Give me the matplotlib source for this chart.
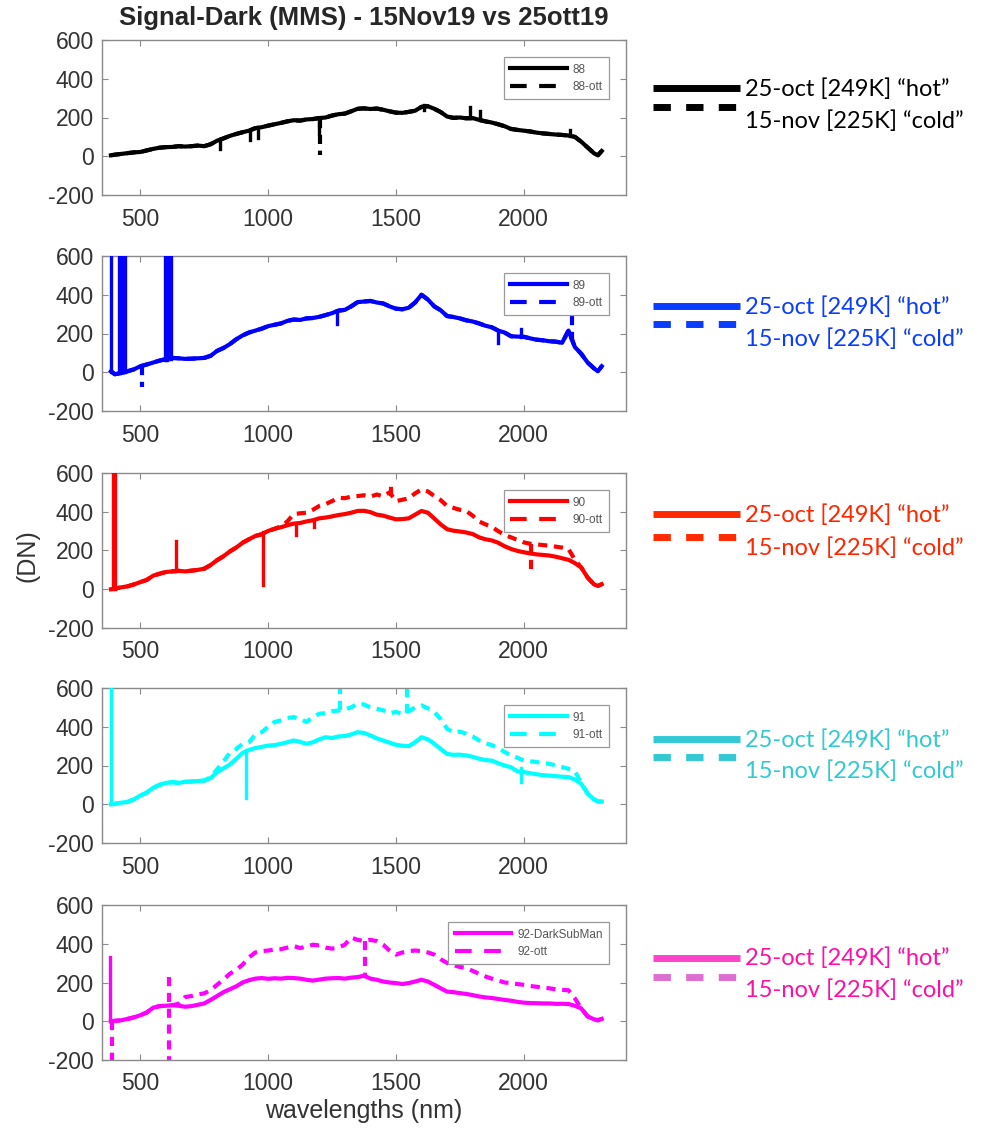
import matplotlib
matplotlib.use("Agg")
import matplotlib.pyplot as plt
from matplotlib.lines import Line2D

# wavelength samples (nm)
wl = [385, 400, 425, 450, 475, 500, 525, 550, 575, 600,
      625, 650, 675, 700, 725, 750, 775, 800, 825, 850,
      875, 900, 925, 950, 975, 1000, 1025, 1050, 1075, 1100,
      1125, 1150, 1175, 1200, 1225, 1250, 1275, 1300, 1325, 1350,
      1375, 1400, 1425, 1450, 1475, 1500, 1525, 1550, 1575, 1600,
      1625, 1650, 1675, 1700, 1725, 1750, 1775, 1800, 1825, 1850,
      1875, 1900, 1925, 1950, 1975, 2000, 2025, 2050, 2075, 2100,
      2125, 2150, 2175, 2200, 2225, 2250, 2275, 2290, 2305]

# Signal-Dark (DN), 15-nov runs
sig_88 = [5, 8, 12, 16, 20, 22, 30, 38, 44, 47,
          48, 52, 50, 52, 55, 52, 62, 80, 92, 105,
          115, 124, 132, 145, 150, 158, 165, 172, 180, 186,
          184, 190, 192, 197, 200, 210, 217, 220, 232, 245,
          247, 244, 246, 240, 232, 225, 224, 229, 235, 255,
          258, 245, 228, 205, 198, 200, 196, 197, 188, 180,
          174, 165, 155, 141, 136, 132, 128, 122, 118, 115,
          112, 110, 107, 100, 75, 45, 15, 5, 27]

sig_89 = [5, -10, -5, 5, 15, 31, 40, 50, 60, 68,
          74, 72, 69, 70, 72, 74, 85, 110, 125, 145,
          170, 190, 205, 215, 225, 238, 245, 252, 265, 272,
          270, 278, 280, 286, 295, 305, 318, 322, 340, 362,
          365, 368, 360, 355, 340, 328, 325, 333, 360, 400,
          375, 340, 320, 290, 285, 278, 268, 262, 252, 240,
          232, 215, 205, 186, 184, 183, 175, 168, 165, 160,
          158, 152, 215, 130, 95, 50, 20, 5, 31]

sig_90 = [0, 3, 10, 15, 25, 37, 48, 70, 80, 89,
          92, 95, 92, 96, 100, 106, 125, 150, 170, 195,
          215, 240, 258, 275, 284, 301, 312, 320, 330, 339,
          342, 350, 356, 366, 370, 376, 383, 388, 395, 404,
          405, 398, 385, 380, 370, 361, 362, 366, 385, 404,
          395, 365, 335, 310, 302, 298, 293, 285, 268, 258,
          252, 240, 222, 208, 198, 191, 185, 180, 177, 174,
          168, 160, 152, 135, 112, 60, 25, 17, 26]

sig_91 = [0, 2, 8, 12, 25, 45, 60, 85, 100, 110,
          114, 110, 116, 117, 120, 122, 135, 165, 185, 205,
          234, 265, 280, 290, 296, 303, 305, 312, 320, 329,
          322, 312, 320, 335, 346, 342, 350, 352, 360, 372,
          368, 355, 340, 329, 318, 307, 302, 300, 320, 346,
          335, 312, 285, 260, 255, 256, 252, 245, 235, 228,
          225, 212, 200, 191, 170, 166, 160, 155, 150, 148,
          145, 142, 140, 128, 105, 55, 25, 14, 14]

sig_92 = [0, 2, 5, 12, 20, 31, 45, 70, 78, 80,
          83, 80, 75, 78, 85, 92, 110, 130, 150, 165,
          180, 200, 212, 220, 223, 219, 222, 220, 224, 223,
          220, 214, 210, 215, 220, 222, 223, 220, 225, 228,
          235, 220, 214, 205, 200, 197, 192, 197, 205, 214,
          205, 188, 170, 153, 150, 145, 141, 135, 128, 123,
          120, 115, 110, 106, 100, 96, 94, 93, 92, 92,
          90, 90, 89, 80, 66, 25, 10, 5, 12]

# 25-ott runs; for 88 and 89 they overlap the nov runs within the line width
ott_88 = sig_88
ott_89 = sig_89

ott_90 = [0, 3, 10, 15, 25, 37, 48, 70, 80, 89,
          92, 95, 92, 96, 100, 106, 125, 150, 170, 195,
          215, 240, 258, 275, 284, 301, 312, 325, 350, 388,
          392, 395, 410, 430, 440, 455, 472, 470, 478, 481,
          485, 478, 489, 480, 500, 455, 462, 469, 495, 515,
          505, 481, 460, 430, 420, 410, 404, 380, 350, 335,
          322, 300, 280, 268, 255, 242, 235, 232, 228, 225,
          220, 215, 208, 152, 112, 60, 25, 17, 26]

ott_91 = [0, 2, 8, 12, 25, 45, 60, 85, 100, 110,
          114, 110, 116, 117, 120, 122, 140, 180, 220, 265,
          285, 312, 320, 360, 372, 400, 425, 433, 445, 450,
          440, 425, 450, 467, 470, 480, 484, 490, 500, 519,
          515, 500, 493, 485, 470, 476, 467, 480, 500, 510,
          495, 476, 440, 390, 370, 375, 364, 350, 330, 315,
          305, 290, 270, 252, 240, 226, 222, 218, 212, 209,
          200, 192, 183, 170, 110, 55, 25, 14, 14]

ott_92 = [0, 2, 5, 12, 20, 31, 45, 70, 78, 80,
          83, 90, 125, 130, 138, 144, 160, 188, 215, 245,
          265, 292, 330, 355, 362, 365, 370, 372, 380, 388,
          378, 385, 395, 391, 380, 375, 380, 395, 432, 420,
          414, 420, 414, 395, 365, 344, 355, 362, 365, 362,
          355, 344, 320, 301, 290, 280, 275, 260, 245, 231,
          220, 210, 200, 197, 192, 188, 182, 178, 174, 170,
          165, 162, 160, 118, 66, 25, 10, 5, 12]

# single-pixel spikes: (wavelength, from, to)
spk_88 = [(1200, 197, 115), (812, 80, 35), (930, 130, 85), (960, 145, 95),
          (1790, 197, 255), (1830, 188, 235), (2180, 107, 136), (1610, 240, 262)]
spk_89 = [(386, 0, 650), (415, 0, 650), (423, 0, 650), (431, 0, 650),
          (439, 0, 650), (598, 65, 650), (606, 65, 650), (614, 68, 650),
          (621, 70, 650), (1270, 318, 250), (1900, 215, 150), (1990, 184, 225)]
spk_90 = [(393, 0, 650), (401, 0, 650), (640, 95, 250), (981, 295, 20),
          (1110, 339, 280), (1180, 356, 320)]
spk_91 = [(386, 0, 650), (913, 280, 31), (1990, 185, 114)]
spk_92 = [(382, 0, 330)]

ospk_88 = [(1203, 190, 5)]
ospk_89 = [(508, 30, -75), (2190, 160, 300)]
ospk_90 = [(1480, 480, 555), (2030, 235, 100)]
ospk_91 = [(1282, 484, 650), (1545, 470, 650)]
ospk_92 = [(388, 0, -260), (612, 230, -260), (1380, 414, 231)]

names = ["88", "89", "90", "91", "92-DarkSubMan"]
ott_names = ["88-ott", "89-ott", "90-ott", "91-ott", "92-ott"]
sigs = [sig_88, sig_89, sig_90, sig_91, sig_92]
otts = [ott_88, ott_89, ott_90, ott_91, ott_92]
spks = [spk_88, spk_89, spk_90, spk_91, spk_92]
ospks = [ospk_88, ospk_89, ospk_90, ospk_91, ospk_92]
colors = ["#000000", "#0000ff", "#ff0000", "#00ffff", "#ff00ff"]

note_hot = "25-oct [249K] \u201chot\u201d"
note_cold = "15-nov [225K] \u201ccold\u201d"
note_text = ["#000000", "#0a3cff", "#ff2600", "#33c9cf", "#ff0fa5"]
note_solid = ["#000000", "#0a3cff", "#ff2a00", "#33c9d4", "#ff44cc"]
note_dash = ["#000000", "#0a3cff", "#ff2a00", "#33c9d4", "#de6fd2"]
# pixel rows of the side notes: solid line, dashed line, text 1, text 2
note_rows = [(88, 107, 89, 121), (306, 324, 307, 339), (514, 537, 515, 548),
             (739, 757, 740, 771), (958, 977, 958, 990)]

W, H = 987, 1131
plt.rcParams['font.family'] = ['Liberation Sans', 'DejaVu Sans']
plt.rcParams['axes.unicode_minus'] = False
fig = plt.figure(figsize=(W / 100, H / 100), dpi=100)

tops = [40, 256, 473, 688, 905]
ax_h = 155
lw = 3.0
dash = (2.2, 1.6)

for i in range(5):
    ax = fig.add_axes([102 / W, 1 - (tops[i] + ax_h) / H, 524 / W, ax_h / H])
    c = colors[i]
    ax.plot(wl, otts[i], color=c, lw=lw, dashes=dash, label=ott_names[i], zorder=2)
    for x, a, b in ospks[i]:
        ax.plot([x, x], [a, b], color=c, lw=lw, dashes=dash, zorder=2)
    ax.plot(wl, sigs[i], color=c, lw=lw, label=names[i], zorder=3)
    for x, a, b in spks[i]:
        ax.plot([x, x], [a, b], color=c, lw=lw * 0.8, zorder=3)

    ax.set_xlim(350, 2400)
    ax.set_ylim(-200, 600)
    ax.set_xticks([500, 1000, 1500, 2000])
    ax.set_yticks([-200, 0, 200, 400, 600])
    for sp in ax.spines.values():
        sp.set_color('#8a8a8a')
        sp.set_linewidth(1.0)
    ax.tick_params(direction='in', top=True, right=True, length=4, width=0.8,
                   color='#8a8a8a', labelsize=16.5, labelcolor='#333333')
    ax.tick_params(axis='x', pad=9)
    ax.tick_params(axis='y', pad=6)

    h, l = ax.get_legend_handles_labels()
    leg = ax.legend([h[1], h[0]], [l[1], l[0]], loc='upper right',
                    bbox_to_anchor=(0.968, 0.89), borderaxespad=0,
                    fontsize=8.5, handlelength=4.8, handletextpad=0.5,
                    fancybox=False, framealpha=1, edgecolor='#9a9a9a',
                    borderpad=0.55, labelspacing=0.45)
    leg.get_frame().set_linewidth(0.9)
    leg.get_lines()[1].set_dashes((4, 3))
    for t in leg.get_texts():
        t.set_color('#555555')

    # side notes
    ys, yd, yt1, yt2 = note_rows[i]
    fig.add_artist(Line2D([653 / W, 740 / W], [1 - ys / H] * 2, transform=fig.transFigure,
                          color=note_solid[i], lw=5, solid_capstyle='butt'))
    fig.add_artist(Line2D([653 / W, 742 / W], [1 - yd / H] * 2, transform=fig.transFigure,
                          color=note_dash[i], lw=5, dashes=(2.5, 2.2),
                          dash_capstyle='butt'))
    fig.text(745 / W, 1 - yt1 / H, note_hot, color=note_text[i], fontsize=17,
             family=['Lato', 'DejaVu Sans'], va='center', ha='left')
    fig.text(745 / W, 1 - yt2 / H, note_cold, color=note_text[i], fontsize=17,
             family=['Lato', 'DejaVu Sans'], va='center', ha='left')

fig.text(364 / W, 1 - 18 / H, "Signal-Dark (MMS) - 15Nov19 vs 25ott19",
         fontsize=18.5, fontweight='bold', color='#262626', ha='center', va='center')
fig.text(28 / W, 1 - 556 / H, "(DN)", fontsize=18, color='#333333',
         rotation=90, ha='center', va='center')
fig.text(364 / W, 1 - 1111 / H, "wavelengths (nm)", fontsize=18, color='#333333',
         ha='center', va='center')

fig.savefig("out.png", dpi=100, facecolor='white')
